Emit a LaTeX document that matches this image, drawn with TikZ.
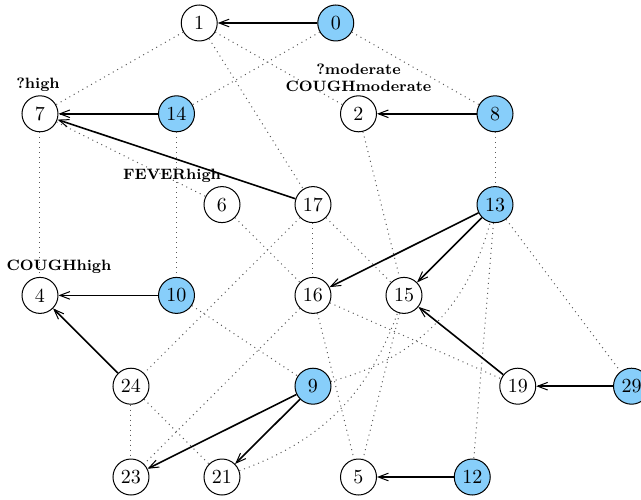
\documentclass[tikz,border=0pt]{standalone}
\usepackage{tikz}
\usetikzlibrary{arrows.meta,positioning}
\definecolor{obsblue}{RGB}{135,206,250}

\begin{document}
\begin{tikzpicture}[x=22.75pt,y=45.4pt,
        var/.style = {draw,circle,minimum size=18pt,inner sep=0pt,line width=.5pt},
        obs/.style = {var,fill=obsblue},
        tag/.style = {font=\fontsize{7.5}{8.5}\selectfont\bfseries,inner sep=1.5pt,align=center},
        dep/.style = {dotted,black!65,line width=.5pt},
        cause/.style = {thick,-{Straight Barb[length=5pt,width=3.8pt,line width=.5pt]}}
        ]

        %Rahmen
        \useasboundingbox (-0.879,0.2533) rectangle (13.209,-5.253);

        %Knoten
        \node[obs] (n0)  at (6.5,0)  {0};
        \node[var] (n1)  at (3.5,0)  {1};
        \node[var] (n7)  at (0,-1)   {7};
        \node[obs] (n14) at (3,-1)   {14};
        \node[var] (n2)  at (7,-1)   {2};
        \node[obs] (n8)  at (10,-1)  {8};
        \node[var] (n6)  at (4,-2)   {6};
        \node[var] (n17) at (6,-2)   {17};
        \node[obs] (n13) at (10,-2)  {13};
        \node[var] (n4)  at (0,-3)   {4};
        \node[obs] (n10) at (3,-3)   {10};
        \node[var] (n16) at (6,-3)   {16};
        \node[var] (n15) at (8,-3)   {15};
        \node[var] (n24) at (2,-4)   {24};
        \node[obs] (n9)  at (6,-4)   {9};
        \node[var] (n19) at (10.5,-4) {19};
        \node[obs] (n29) at (13,-4)  {29};
        \node[var] (n23) at (2,-5)   {23};
        \node[var] (n21) at (4,-5)   {21};
        \node[var] (n5)  at (7,-5)   {5};
        \node[obs] (n12) at (9.5,-5) {12};

        %Beschriftung
        \node[tag,above=0pt of n7,xshift=-1pt] (l7) {?high};
        \node[tag,above=0pt of n2] (l2) {?moderate\\COUGHmoderate};
        \node[tag,above=0pt of n6,xshift=-25pt] (l6) {FEVERhigh};
        \node[tag,above=0pt of n4,xshift=9.5pt] (l4) {COUGHhigh};

        %Abhaengigkeiten
        \foreach \a/\b in {n1/n7,n1/n17,n1/n2,n0/n14,n0/n8,n7/n6,n7/n4,n14/n10,
                n8/n13,n2/n15,n17/n16,n17/n15,n17/n24,n6/n16,n10/n9,n16/n23,
                n16/n19,n16/n5,n15/n5,n13/n12,n13/n29,n24/n23,n24/n21}
        \draw[dep] (\a) -- (\b);
        \draw[dep] (n9) to[bend right=30] (n13);
        \draw[dep] (n21) to[bend right=25] (n15);

        %Pfeile
        \foreach \a/\b in {n0/n1,n14/n7,n17/n7,n8/n2,n10/n4,n24/n4,n13/n16,
                n13/n15,n19/n15,n29/n19,n9/n23,n9/n21,n12/n5}
        \draw[cause] (\a) -- (\b);

    \end{tikzpicture}
\end{document}
